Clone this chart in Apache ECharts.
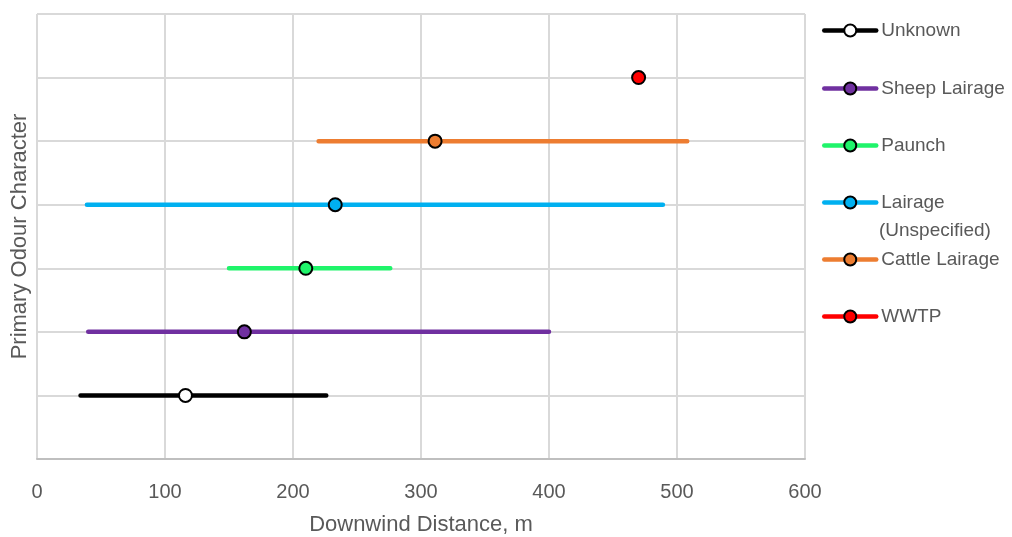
<!DOCTYPE html>
<html><head><meta charset="utf-8">
<script src="https://cdn.jsdelivr.net/npm/echarts@6/dist/echarts.min.js"></script>
<style>html,body{margin:0;padding:0;background:#fff}#c{width:1012px;height:537px}</style>
</head><body><div id="c"></div>
<script>
const categories = ["Unknown", "Sheep Lairage", "Paunch", "Lairage (Unspecified)", "Cattle Lairage", "WWTP"];
const rowIndex = [1, 2, 3, 4, 5, 6];
const minValues = [34, 40, 150, 39, 220, null];
const medianValues = [116, 162, 210, 233, 311, 470];
const maxValues = [226, 400, 276, 489, 508, null];
const colors = ["#000000", "#7030A0", "#1FF46A", "#00B0F0", "#ED7D31", "#FF0000"];
const markerFill = ["#FFFFFF", "#7030A0", "#1FF46A", "#00B0F0", "#ED7D31", "#FF0000"];
const xTicks = [0, 100, 200, 300, 400, 500, 600];
const legendCenters = [30, 88, 145, 202, 259, 316];

const FONT = "'Liberation Sans', 'Noto Sans', sans-serif";
const TXT = '#595959';

const series = categories.map((name, i) => {
  const y = rowIndex[i];
  const data = [];
  if (minValues[i] != null) data.push({value: [minValues[i], y], symbol: 'none'});
  data.push({value: [medianValues[i], y]});
  if (maxValues[i] != null) data.push({value: [maxValues[i], y], symbol: 'none'});
  return {
    name, type: 'line', data,
    symbol: 'circle', symbolSize: 13, showAllSymbol: true,
    lineStyle: {color: colors[i], width: 4.5, cap: 'round'},
    itemStyle: {color: markerFill[i], borderColor: '#000', borderWidth: 2},
    emphasis: {disabled: true}, animation: false, z: 3
  };
});

const legends = categories.map((name, i) => ({
  data: [name], left: 822, top: legendCenters[i] - 9, padding: 0,
  itemWidth: 52, itemHeight: 15, itemGap: 4,
  formatter: n => n === 'Lairage (Unspecified)' ? 'Lairage' : n,
  lineStyle: {width: 4.5, cap: 'round'},
  itemStyle: {borderWidth: 2, borderColor: '#000'},
  textStyle: {fontFamily: FONT, fontSize: 19, color: TXT},
  selectedMode: false
}));

const chart = echarts.init(document.getElementById('c'), null, {renderer: 'canvas'});
chart.setOption({
  backgroundColor: '#fff',
  animation: false,
  grid: {left: 37, right: 207, top: 14, bottom: 78, containLabel: false, outerBoundsMode: 'none'},
  xAxis: {
    type: 'value', min: xTicks[0], max: xTicks[xTicks.length-1], interval: 100,
    name: 'Downwind Distance, m', nameLocation: 'middle', nameGap: 55,
    nameTextStyle: {fontFamily: FONT, fontSize: 22, color: TXT},
    axisLine: {show: true, lineStyle: {color: '#BFBFBF', width: 2}},
    axisTick: {show: false},
    axisLabel: {margin: 23, fontFamily: FONT, fontSize: 20, color: TXT},
    splitLine: {show: true, lineStyle: {color: '#D9D9D9', width: 2}}
  },
  yAxis: {
    type: 'value', min: 0, max: 7, interval: 1,
    name: 'Primary Odour Character', nameLocation: 'middle', nameGap: 6,
    nameTextStyle: {fontFamily: FONT, fontSize: 22, color: TXT},
    axisLine: {show: false}, axisTick: {show: false}, axisLabel: {show: false},
    splitLine: {show: true, lineStyle: {color: '#D9D9D9', width: 2}}
  },
  legend: legends,
  graphic: [{
    type: 'text', left: 879, top: legendCenters[3] + 19,
    style: {text: '(Unspecified)', font: '19px ' + FONT, fill: TXT}
  }],
  series
});
</script></body></html>
